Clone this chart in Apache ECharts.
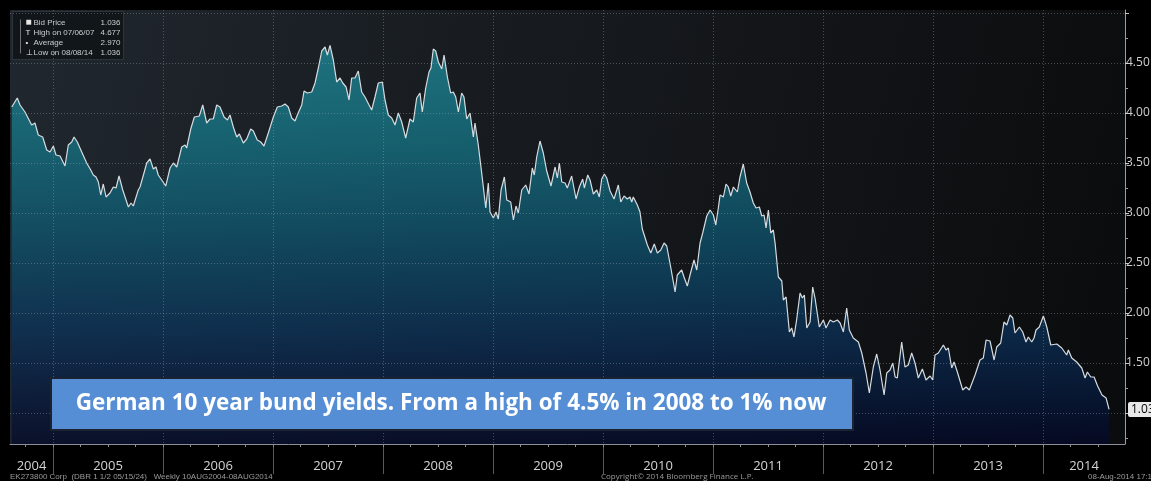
<!DOCTYPE html>
<html><head><meta charset="utf-8">
<script src="https://cdn.jsdelivr.net/npm/echarts@6/dist/echarts.min.js"></script>
<style>html,body{margin:0;padding:0;background:#000;}#c{width:1151px;height:481px;}</style>
</head><body><div id="c"></div>
<script>
// decimal-year dates (weekly samples)
const dates = [2004.625,2004.675,2004.700,2004.745,2004.761,2004.806,2004.836,2004.866,2004.906,2004.943,2004.973,
2005.003,2005.027,2005.064,2005.109,2005.139,2005.170,2005.191,2005.221,2005.261,2005.306,2005.343,2005.366,2005.391,2005.412,2005.434,2005.457,2005.482,2005.518,2005.548,2005.573,2005.600,2005.634,2005.685,2005.709,2005.730,2005.775,2005.791,2005.827,2005.852,2005.882,2005.912,2005.936,2005.957,2005.988,
2006.025,2006.064,2006.094,2006.125,2006.170,2006.200,2006.215,2006.252,2006.285,2006.330,2006.361,2006.397,2006.427,2006.457,2006.488,2006.518,2006.555,2006.585,2006.609,2006.639,2006.670,2006.694,2006.730,2006.761,2006.797,2006.821,2006.857,2006.888,2006.918,2006.957,
2007.003,2007.039,2007.079,2007.109,2007.139,2007.170,2007.200,2007.221,2007.261,2007.282,2007.312,2007.352,2007.382,2007.412,2007.443,2007.473,2007.494,2007.518,2007.548,2007.579,2007.609,2007.634,2007.664,2007.691,2007.715,2007.745,2007.775,2007.806,2007.836,2007.873,2007.897,2007.927,2007.957,2007.994,
2008.018,2008.048,2008.079,2008.109,2008.139,2008.170,2008.206,2008.245,2008.275,2008.306,2008.336,2008.357,2008.388,2008.418,2008.436,2008.457,2008.479,2008.503,2008.534,2008.555,2008.573,2008.585,2008.615,2008.639,2008.661,2008.685,2008.715,2008.736,2008.761,2008.791,2008.821,2008.836,2008.866,2008.897,2008.934,2008.957,2008.973,
2009.003,2009.027,2009.048,2009.073,2009.103,2009.125,2009.161,2009.185,2009.209,2009.230,2009.261,2009.297,2009.327,2009.357,2009.375,2009.397,2009.427,2009.457,2009.488,2009.527,2009.564,2009.585,2009.603,2009.625,2009.655,2009.675,2009.715,2009.755,2009.785,2009.815,2009.830,2009.861,2009.882,2009.912,2009.943,2009.966,2009.988,
2010.012,2010.034,2010.064,2010.100,2010.139,2010.161,2010.191,2010.221,2010.245,2010.261,2010.275,2010.312,2010.336,2010.357,2010.403,2010.434,2010.466,2010.494,2010.525,2010.555,2010.579,2010.615,2010.655,2010.675,2010.715,2010.736,2010.766,2010.791,2010.827,2010.852,2010.882,2010.906,2010.943,2010.973,
2011.003,2011.025,2011.048,2011.064,2011.094,2011.118,2011.139,2011.161,2011.185,2011.221,2011.245,2011.275,2011.306,2011.336,2011.366,2011.391,2011.421,2011.443,2011.464,2011.482,2011.503,2011.525,2011.548,2011.564,2011.594,2011.625,2011.639,2011.664,2011.694,2011.715,2011.736,2011.761,2011.791,2011.812,2011.830,2011.852,2011.882,2011.906,2011.927,2011.943,2011.966,
2012.003,2012.027,2012.064,2012.094,2012.130,2012.155,2012.185,2012.215,2012.239,2012.275,2012.321,2012.352,2012.391,2012.421,2012.457,2012.488,2012.518,2012.555,2012.579,2012.609,2012.634,2012.655,2012.675,2012.715,2012.745,2012.775,2012.806,2012.836,2012.866,2012.903,2012.936,2012.973,2012.997,
2013.018,2013.048,2013.094,2013.118,2013.139,2013.170,2013.191,2013.221,2013.270,2013.300,2013.330,2013.382,2013.427,2013.457,2013.482,2013.518,2013.555,2013.579,2013.615,2013.645,2013.670,2013.700,2013.725,2013.745,2013.785,2013.815,2013.845,2013.866,2013.897,2013.918,2013.936,2013.966,
2014.003,2014.034,2014.070,2014.125,2014.170,2014.215,2014.230,2014.261,2014.306,2014.352,2014.382,2014.403,2014.434,2014.464,2014.496,2014.536,2014.573,2014.600];

const yields = [4.06,4.15,4.08,4.01,4.02,3.88,3.90,3.78,3.76,3.63,3.61,
3.67,3.58,3.57,3.47,3.68,3.71,3.76,3.71,3.61,3.50,3.43,3.38,3.36,3.31,3.18,3.29,3.16,3.20,3.26,3.25,3.37,3.23,3.06,3.10,3.07,3.23,3.26,3.40,3.50,3.54,3.44,3.46,3.38,3.33,
3.27,3.45,3.50,3.46,3.66,3.68,3.65,3.84,3.96,3.97,4.08,3.90,3.94,3.94,4.08,4.06,3.96,3.93,3.98,3.86,3.76,3.79,3.70,3.74,3.84,3.82,3.73,3.71,3.67,3.80,
3.96,4.06,4.07,4.09,4.06,3.95,3.92,3.98,4.08,4.22,4.20,4.21,4.30,4.45,4.62,4.66,4.58,4.677,4.53,4.31,4.35,4.30,4.26,4.13,4.35,4.35,4.42,4.21,4.16,4.08,4.03,4.16,4.30,4.31,
4.13,3.98,3.95,3.88,4.00,3.91,3.75,3.94,3.91,4.15,4.20,4.01,4.25,4.41,4.45,4.64,4.62,4.51,4.44,4.58,4.60,4.36,4.20,4.21,4.16,4.01,4.20,4.16,3.94,4.00,3.76,3.90,3.68,3.40,3.05,3.30,3.01,
2.95,3.01,2.94,3.23,3.36,3.13,3.11,2.93,3.07,3.00,3.23,3.28,3.19,3.45,3.38,3.56,3.72,3.60,3.42,3.27,3.46,3.35,3.50,3.31,3.30,3.25,3.37,3.14,3.26,3.34,3.25,3.38,3.33,3.19,3.23,3.16,3.34,
3.39,3.35,3.22,3.14,3.28,3.11,3.17,3.14,3.16,3.11,3.16,3.08,3.01,2.84,2.68,2.60,2.69,2.60,2.63,2.70,2.67,2.46,2.21,2.38,2.43,2.36,2.27,2.38,2.53,2.43,2.70,2.80,2.97,3.03,
2.98,2.88,3.05,3.18,3.16,3.29,3.26,3.17,3.26,3.21,3.36,3.49,3.30,3.21,3.10,3.05,3.06,2.97,2.98,2.85,3.03,2.80,2.83,2.70,2.36,2.32,2.13,2.16,1.81,1.85,1.76,1.94,2.20,2.15,2.18,1.85,1.91,2.26,2.15,2.17,1.86,
1.93,1.85,1.93,1.91,1.93,1.90,1.81,2.05,1.83,1.75,1.71,1.60,1.40,1.20,1.46,1.59,1.43,1.18,1.40,1.43,1.50,1.36,1.35,1.71,1.46,1.48,1.60,1.50,1.35,1.44,1.33,1.37,1.33,
1.58,1.60,1.68,1.63,1.65,1.45,1.51,1.41,1.23,1.26,1.23,1.38,1.53,1.55,1.73,1.72,1.53,1.66,1.70,1.91,1.88,1.98,1.95,1.80,1.86,1.81,1.71,1.76,1.71,1.75,1.83,1.86,
1.97,1.86,1.68,1.69,1.65,1.58,1.63,1.55,1.51,1.45,1.35,1.41,1.36,1.36,1.27,1.18,1.15,1.036];

const yearLabels = ['2004','2005','2006','2007','2008','2009','2010','2011','2012','2013','2014'];
const yearStarts = [2005,2006,2007,2008,2009,2010,2011,2012,2013,2014];
const yTickValues = [1.0,1.5,2.0,2.5,3.0,3.5,4.0,4.5,5.0];
const yLabelValues = [1.5,2.0,2.5,3.0,3.5,4.0,4.5];
const yMinorTicks = [0.75,1.25,1.75,2.25,2.75,3.25,3.75,4.25,4.75];
const legendNames = ['Bid Price','High on 07/06/07','Average','Low on 08/08/14'];
const legendValues = ['1.036','4.677','2.970','1.036'];
const legendIcons = ['\u25A0','T','\u2022','\u22A5'];
const annotationText = 'German 10 year bund yields. From a high of 4.5% in 2008 to 1% now';
const footerLeft = 'EK273800 Corp  (DBR 1 1/2 05/15/24)   Weekly 10AUG2004-08AUG2014';
const footerMid = 'Copyright\u00A9 2014 Bloomberg Finance L.P.';
const footerRight = '08-Aug-2014 17:16:35';

const X_MIN = 2004.609, X_MAX = 2014.745, Y_MIN = 0.69, Y_MAX = 5.03;

const seriesData = dates.map((d, i) => [d, yields[i]]);
const lastValue = yields[yields.length - 1];
const quarterTicks = [];
for (let y = 2004; y <= 2014; y++) for (let q = 0; q < 4; q++) {
  const v = y + q * 0.25; if (v > X_MIN && v < X_MAX) quarterTicks.push(v);
}
const labelCenters = yearLabels.map(s => {
  const y = +s; return (Math.max(y, X_MIN) + Math.min(y + 1, X_MAX)) / 2;
});

// fit the annotation text to the width of the reference text block
const ANN_FONT = '"Open Sans"';
const mctx = document.createElement('canvas').getContext('2d');
mctx.font = 'bold 20px ' + ANN_FONT;
const annSize = Math.min(24, 20 * 751 / mctx.measureText(annotationText).width);

const chart = echarts.init(document.getElementById('c'), null, {renderer: 'canvas'});
const FONT = 'Open Sans';
const SMALL = 'Liberation Sans';
const legendGroup = {
  type: 'group', left: 12, top: 11, z: 100,
  children: [
    {type: 'rect', shape: {x: 0, y: 0, width: 111, height: 48}, style: {fill: 'rgba(14,17,20,0.75)', stroke: 'rgba(60,66,72,0.6)', lineWidth: 1}},
    {type: 'line', shape: {x1: 8, y1: 8, x2: 8, y2: 42}, style: {stroke: '#6d7378', lineWidth: 1}},
  ].concat(legendNames.flatMap((n, i) => [
    {type: 'text', x: 13, y: 11 + i * 10, style: {text: legendIcons[i], fill: '#e6e6e6', font: (i === 0 ? '10px ' : '8px ') + SMALL, verticalAlign: 'middle', align: 'left'}},
    {type: 'text', x: 21, y: 11 + i * 10, style: {text: n, fill: '#c9cdd1', font: '8px ' + SMALL, verticalAlign: 'middle'}},
    {type: 'text', x: 108, y: 11 + i * 10, style: {text: legendValues[i], fill: '#c9cdd1', font: '8px ' + SMALL, verticalAlign: 'middle', align: 'right'}}
  ]))
};

const option = {
  backgroundColor: '#000',
  animation: false,
  grid: {
    left: 10, right: 26, top: 10, bottom: 37, show: true, borderWidth: 0,
    containLabel: false, outerBoundsMode: 'none',
    backgroundColor: new echarts.graphic.LinearGradient(0, 0, 1, 0.6, [
      {offset: 0, color: '#20272e'}, {offset: 0.55, color: '#15181c'}, {offset: 1, color: '#0b0c0d'}
    ])
  },
  xAxis: [{
    type: 'value', min: X_MIN, max: X_MAX, z: 5,
    axisLine: {show: true, lineStyle: {color: '#8b9096', width: 1}},
    axisTick: {show: true, customValues: yearStarts, length: 30, lineStyle: {color: '#55595e'}},
    axisLabel: {show: false},
    splitLine: {show: true, lineStyle: {color: 'rgba(175,185,195,0.35)', type: [1, 2], width: 1}}
  }, {
    type: 'value', min: X_MIN, max: X_MAX, z: 5, position: 'bottom',
    axisLine: {show: false},
    axisTick: {show: true, customValues: quarterTicks, length: 3, lineStyle: {color: '#8b9096'}},
    axisLabel: {show: true, customValues: labelCenters, formatter: v => String(Math.floor(v + 1e-6)),
      color: '#d4d4d4', fontSize: 13, fontFamily: FONT, margin: 16},
    splitLine: {show: false}
  }],
  yAxis: [{
    type: 'value', position: 'right', min: Y_MIN, max: Y_MAX, z: 5,
    axisLine: {show: true, lineStyle: {color: '#9a9fa4'}},
    axisTick: {show: true, customValues: yTickValues, length: 4, lineStyle: {color: '#c8c8c8'}},
    axisLabel: {show: true, customValues: yLabelValues, formatter: v => v.toFixed(2), color: '#d0d0d0', fontSize: 12, fontFamily: FONT, margin: 1},
    splitLine: {show: true, lineStyle: {color: 'rgba(175,185,195,0.35)', type: [1, 2], width: 1}}
  }, {
    type: 'value', position: 'right', min: Y_MIN, max: Y_MAX, z: 5,
    axisLine: {show: false},
    axisTick: {show: true, customValues: yMinorTicks, length: 3, lineStyle: {color: '#9a9fa4'}},
    axisLabel: {show: false}, splitLine: {show: false}
  }, {
    // last-value tag on the price axis
    type: 'value', position: 'right', min: Y_MIN, max: Y_MAX, z: 6,
    axisLine: {show: false}, axisTick: {show: false}, splitLine: {show: false},
    axisLabel: {show: true, customValues: [lastValue], formatter: v => v.toFixed(3),
      color: '#000', backgroundColor: '#e8e8e8', padding: [2, 3, 1, 3], borderRadius: 2,
      fontSize: 12, fontFamily: FONT, margin: 3}
  }],
  series: [{
    type: 'line', xAxisIndex: 0, yAxisIndex: 0, data: seriesData,
    symbol: 'none', smooth: false, z: 2,
    lineStyle: {color: '#d6dbdf', width: 1.2},
    areaStyle: {
      color: new echarts.graphic.LinearGradient(0, 0, 0, 1, [
        {offset: 0, color: '#1f96a6'}, {offset: 0.25, color: '#157b8d'},
        {offset: 0.5, color: '#0d5673'}, {offset: 0.72, color: '#0a335d'}, {offset: 1, color: '#03082a'}
      ])
    }
  }],
  graphic: [
    legendGroup,
    {type: 'rect', left: 50, top: 377, z: 100, shape: {width: 802, height: 52},
      style: {fill: '#558ed5', stroke: '#1b2330', lineWidth: 2}},
    {type: 'text', x: 451, y: 404, z: 101,
      style: {text: annotationText, fill: '#fff', font: 'bold ' + annSize.toFixed(2) + 'px ' + ANN_FONT, align: 'center', verticalAlign: 'middle'}},
    {type: 'text', left: 10, top: 473, z: 100, style: {text: footerLeft, fill: '#9a9a9a', font: '8px ' + SMALL}},
    {type: 'text', left: 601, top: 473, z: 100, style: {text: footerMid, fill: '#9a9a9a', font: '8px ' + FONT}},
    {type: 'text', left: 1088, top: 473, z: 100, style: {text: footerRight, fill: '#9a9a9a', font: '8px ' + SMALL}}
  ]
};
chart.setOption(option);
</script></body></html>
